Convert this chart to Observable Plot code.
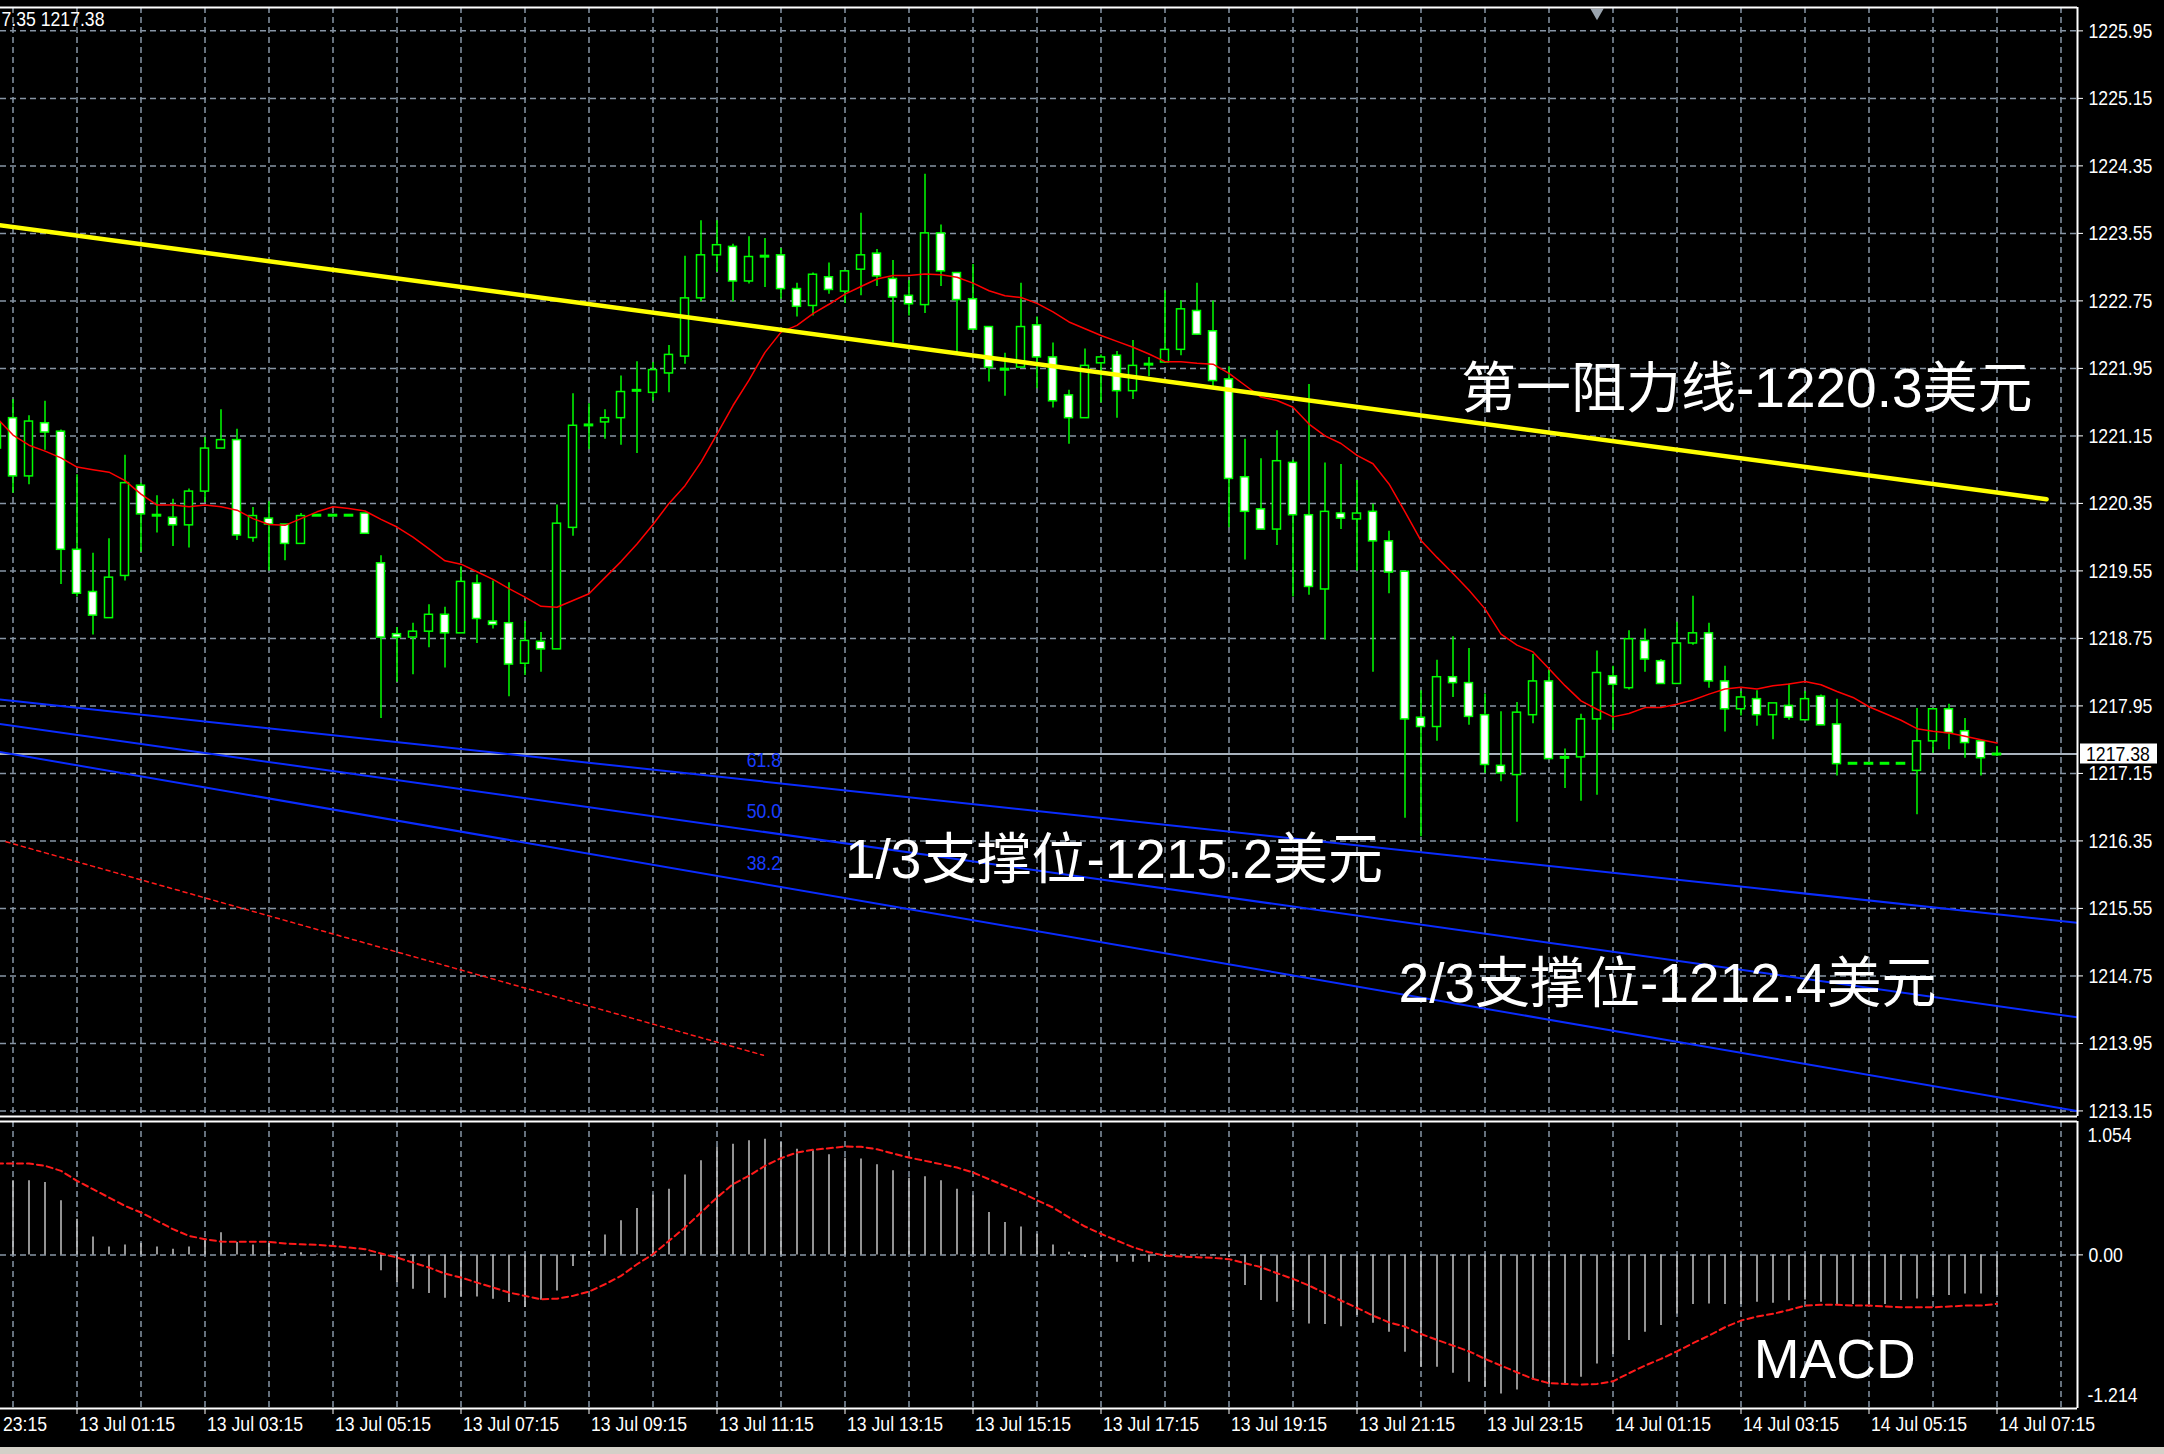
<!DOCTYPE html>
<html lang="zh-CN">
<head>
<meta charset="utf-8">
<title>XAUUSD M15</title>
<script src="https://cdn.jsdelivr.net/npm/d3@7"></script>
<script src="https://cdn.jsdelivr.net/npm/@observablehq/plot@0.6"></script>
<style>
  html, body { margin: 0; padding: 0; background: #000; }
  #chart { position: relative; width: 2164px; height: 1454px; background: #000; overflow: hidden; }
  #chart > svg { position: absolute; left: 0; }
  #status { position: absolute; left: 0; top: 1447px; width: 2164px; height: 7px; background: #d4d0c8; z-index: 3; }
</style>
</head>
<body>
<div id="chart"><div id="status"></div></div>
<script>
// M15 candles; bar index 0 = 13 Jul 00:00, bar 125 = 14 Jul 07:15
const open = [
  1221.30, 1221.36, 1220.67, 1221.30, 1221.20, 1219.80, 1219.30, 1218.99, 1219.49, 1220.56,
  1220.21, 1220.18, 1220.09, 1220.49, 1221.00, 1221.10, 1219.94, 1220.17, 1220.10, 1219.87,
  1220.21, 1220.21, 1220.21, 1220.23, 1219.64, 1218.80, 1218.76, 1218.83, 1219.03, 1218.81,
  1219.40, 1218.95, 1218.93, 1218.45, 1218.71, 1218.62, 1220.06, 1221.28, 1221.31, 1221.36,
  1221.69, 1221.66, 1221.89, 1222.09, 1222.78, 1223.29, 1223.39, 1222.98, 1223.28, 1223.29,
  1222.89, 1222.69, 1223.03, 1222.86, 1223.12, 1223.31, 1223.01, 1222.81, 1222.70, 1223.55,
  1223.08, 1222.77, 1222.44, 1221.94, 1221.96, 1222.46, 1222.08, 1221.63, 1221.36, 1222.01,
  1222.10, 1221.68, 1222.00, 1222.02, 1222.17, 1222.63, 1222.39, 1221.82, 1220.66, 1220.28,
  1220.04, 1220.83, 1220.21, 1219.33, 1220.23, 1220.16, 1220.25, 1219.90, 1219.54, 1217.81,
  1217.70, 1218.29, 1218.22, 1217.84, 1217.24, 1217.13, 1217.84, 1218.24, 1217.34, 1217.34,
  1217.79, 1218.30, 1218.16, 1218.72, 1218.48, 1218.21, 1218.69, 1218.81, 1218.24, 1217.91,
  1218.03, 1217.84, 1217.95, 1217.78, 1218.06, 1217.73, 1217.27, 1217.27, 1217.27, 1217.27,
  1217.18, 1217.53, 1217.91, 1217.65, 1217.53, 1217.38
];
const high = [
  1221.40, 1221.58, 1221.39, 1221.56, 1221.22, 1220.69, 1219.76, 1219.93, 1220.92, 1220.59,
  1220.44, 1220.40, 1220.52, 1221.13, 1221.46, 1221.23, 1220.30, 1220.37, 1220.10, 1220.23,
  1220.21, 1220.21, 1220.21, 1220.23, 1219.73, 1218.88, 1218.93, 1219.15, 1219.12, 1219.60,
  1219.50, 1219.43, 1219.41, 1218.95, 1218.82, 1220.33, 1221.65, 1221.53, 1221.46, 1221.86,
  1222.03, 1222.02, 1222.22, 1223.28, 1223.70, 1223.70, 1223.42, 1223.51, 1223.49, 1223.37,
  1222.96, 1223.08, 1223.20, 1223.10, 1223.79, 1223.36, 1223.23, 1222.99, 1224.25, 1223.65,
  1223.08, 1223.18, 1222.44, 1222.13, 1222.96, 1222.56, 1222.25, 1221.69, 1222.18, 1222.11,
  1222.15, 1222.28, 1222.08, 1222.87, 1222.75, 1222.96, 1222.75, 1221.97, 1221.11, 1220.88,
  1221.21, 1220.86, 1221.76, 1220.83, 1220.81, 1220.62, 1220.34, 1220.02, 1219.54, 1218.13,
  1218.49, 1218.77, 1218.63, 1218.09, 1217.88, 1217.99, 1218.56, 1218.37, 1217.44, 1217.85,
  1218.60, 1218.42, 1218.84, 1218.86, 1218.50, 1218.94, 1219.25, 1218.93, 1218.42, 1218.12,
  1218.13, 1217.98, 1218.21, 1218.12, 1218.08, 1218.03, 1217.27, 1217.27, 1217.27, 1217.27,
  1217.92, 1217.91, 1217.97, 1217.80, 1217.53, 1217.47
];
const low = [
  1220.86, 1220.47, 1220.57, 1220.98, 1219.39, 1219.24, 1218.79, 1218.99, 1219.43, 1219.77,
  1220.00, 1219.84, 1219.82, 1220.36, 1221.00, 1219.91, 1219.89, 1219.55, 1219.67, 1219.87,
  1220.21, 1220.21, 1220.21, 1219.99, 1217.80, 1218.23, 1218.32, 1218.64, 1218.40, 1218.81,
  1218.69, 1218.86, 1218.06, 1218.31, 1218.35, 1218.62, 1219.96, 1220.99, 1221.11, 1221.04,
  1220.94, 1221.56, 1221.66, 1222.00, 1222.74, 1223.09, 1222.74, 1222.95, 1222.91, 1222.77,
  1222.56, 1222.57, 1222.83, 1222.72, 1222.81, 1222.92, 1222.25, 1222.57, 1222.60, 1222.92,
  1222.13, 1222.41, 1221.79, 1221.62, 1221.96, 1221.71, 1221.48, 1221.05, 1221.36, 1221.54,
  1221.36, 1221.58, 1221.85, 1222.02, 1222.10, 1222.34, 1221.73, 1220.06, 1219.68, 1220.04,
  1219.85, 1219.24, 1219.26, 1218.73, 1220.04, 1219.55, 1218.35, 1219.28, 1216.62, 1216.40,
  1217.53, 1218.05, 1217.72, 1217.15, 1217.05, 1216.57, 1217.74, 1217.32, 1216.97, 1216.82,
  1216.89, 1217.66, 1218.14, 1218.35, 1218.21, 1218.21, 1218.67, 1218.16, 1217.64, 1217.83,
  1217.71, 1217.55, 1217.78, 1217.78, 1217.72, 1217.12, 1217.27, 1217.27, 1217.27, 1217.27,
  1216.66, 1217.39, 1217.43, 1217.33, 1217.12, 1217.35
];
const close = [
  1221.00, 1220.67, 1221.32, 1221.19, 1219.80, 1219.28, 1219.02, 1219.47, 1220.59, 1220.22,
  1220.21, 1220.09, 1220.49, 1221.00, 1221.10, 1219.97, 1220.20, 1220.10, 1219.87, 1220.20,
  1220.21, 1220.21, 1220.21, 1219.99, 1218.76, 1218.76, 1218.83, 1219.03, 1218.81, 1219.42,
  1218.98, 1218.91, 1218.44, 1218.72, 1218.62, 1220.11, 1221.27, 1221.28, 1221.36, 1221.67,
  1221.69, 1221.93, 1222.11, 1222.78, 1223.29, 1223.41, 1222.98, 1223.27, 1223.28, 1222.89,
  1222.68, 1223.06, 1222.88, 1223.10, 1223.29, 1223.04, 1222.79, 1222.71, 1223.55, 1223.10,
  1222.76, 1222.41, 1221.96, 1221.94, 1222.44, 1222.08, 1221.56, 1221.36, 1221.98, 1222.08,
  1221.68, 1221.98, 1222.00, 1222.17, 1222.65, 1222.35, 1221.80, 1220.64, 1220.25, 1220.04,
  1220.85, 1220.21, 1219.36, 1220.25, 1220.17, 1220.23, 1219.90, 1219.53, 1217.79, 1217.70,
  1218.29, 1218.22, 1217.82, 1217.25, 1217.15, 1217.87, 1218.24, 1217.32, 1217.34, 1217.79,
  1218.34, 1218.20, 1218.74, 1218.50, 1218.21, 1218.69, 1218.81, 1218.24, 1217.91, 1218.05,
  1217.84, 1217.98, 1217.81, 1218.03, 1217.72, 1217.26, 1217.27, 1217.27, 1217.27, 1217.27,
  1217.53, 1217.91, 1217.63, 1217.51, 1217.33, 1217.38
];
// moving average drawn in red over the candles
const ma = [
  1221.36, 1221.16, 1221.04, 1220.97, 1220.89, 1220.78, 1220.75, 1220.72, 1220.62, 1220.46,
  1220.33, 1220.33, 1220.31, 1220.33, 1220.31, 1220.27, 1220.17, 1220.10, 1220.09, 1220.17,
  1220.25, 1220.31, 1220.29, 1220.26, 1220.16, 1220.07, 1219.95, 1219.81, 1219.67, 1219.63,
  1219.54, 1219.45, 1219.34, 1219.24, 1219.13, 1219.12, 1219.20, 1219.28, 1219.47, 1219.66,
  1219.87, 1220.10, 1220.35, 1220.56, 1220.84, 1221.17, 1221.51, 1221.81, 1222.14, 1222.38,
  1222.46, 1222.60, 1222.71, 1222.83, 1222.92, 1223.01, 1223.05, 1223.05, 1223.07, 1223.06,
  1223.03, 1222.96, 1222.87, 1222.81, 1222.79, 1222.72, 1222.62, 1222.50, 1222.42, 1222.34,
  1222.27, 1222.20, 1222.12, 1222.03, 1222.03, 1222.01, 1222.00, 1221.89, 1221.75, 1221.61,
  1221.57, 1221.49, 1221.29, 1221.15, 1221.06, 1220.92, 1220.82, 1220.58, 1220.25, 1219.91,
  1219.71, 1219.52, 1219.32, 1219.10, 1218.80, 1218.67, 1218.59, 1218.39, 1218.19, 1218.01,
  1217.91, 1217.82, 1217.86, 1217.93, 1217.93, 1217.97, 1218.02, 1218.09, 1218.15, 1218.17,
  1218.15, 1218.19, 1218.21, 1218.24, 1218.20, 1218.12, 1218.05, 1217.94, 1217.86, 1217.78,
  1217.68, 1217.65, 1217.63, 1217.59, 1217.55, 1217.51
];
const macdHist = [
  0.590, 0.585, 0.585, 0.572, 0.427, 0.282, 0.142, 0.063, 0.079, 0.090,
  0.063, 0.045, 0.063, 0.124, 0.174, 0.097, 0.079, 0.090, 0.011, 0.016,
  0.005, 0.003, 0.000, -0.005, -0.126, -0.219, -0.272, -0.306, -0.343, -0.332,
  -0.332, -0.351, -0.377, -0.416, -0.358, -0.285, -0.092, 0.026, 0.158, 0.269,
  0.366, 0.472, 0.519, 0.632, 0.743, 0.848, 0.875, 0.901, 0.914, 0.888,
  0.835, 0.822, 0.791, 0.764, 0.757, 0.712, 0.665, 0.606, 0.617, 0.585,
  0.519, 0.467, 0.335, 0.256, 0.221, 0.163, 0.079, 0.020, -0.020, -0.045,
  -0.058, -0.058, -0.058, -0.020, 0.005, 0.005, -0.005, -0.020, -0.242, -0.361,
  -0.375, -0.440, -0.546, -0.551, -0.567, -0.480, -0.541, -0.611, -0.769, -0.888,
  -0.888, -0.936, -1.007, -1.047, -1.099, -1.067, -0.988, -1.020, -1.020, -0.967,
  -0.862, -0.788, -0.677, -0.611, -0.559, -0.467, -0.393, -0.388, -0.393, -0.393,
  -0.375, -0.383, -0.362, -0.356, -0.375, -0.393, -0.393, -0.393, -0.393, -0.361,
  -0.349, -0.322, -0.322, -0.309, -0.309, -0.322
];
const macdSignal = [
  0.722, 0.722, 0.722, 0.704, 0.664, 0.585, 0.519, 0.453, 0.387, 0.335,
  0.269, 0.203, 0.150, 0.124, 0.105, 0.103, 0.103, 0.103, 0.090, 0.084,
  0.079, 0.071, 0.058, 0.045, 0.011, -0.021, -0.061, -0.100, -0.148, -0.179,
  -0.219, -0.258, -0.298, -0.324, -0.351, -0.346, -0.324, -0.290, -0.232, -0.166,
  -0.074, 0.005, 0.111, 0.216, 0.335, 0.453, 0.559, 0.625, 0.704, 0.764,
  0.809, 0.830, 0.843, 0.856, 0.854, 0.835, 0.801, 0.769, 0.743, 0.717,
  0.690, 0.651, 0.598, 0.546, 0.493, 0.432, 0.374, 0.296, 0.224, 0.166,
  0.113, 0.061, 0.021, -0.005, -0.013, -0.018, -0.024, -0.034, -0.066, -0.097,
  -0.145, -0.190, -0.242, -0.303, -0.361, -0.419, -0.480, -0.533, -0.567, -0.625,
  -0.672, -0.717, -0.762, -0.822, -0.875, -0.928, -0.980, -1.014, -1.020, -1.025,
  -1.020, -0.999, -0.935, -0.875, -0.822, -0.762, -0.698, -0.638, -0.572, -0.519,
  -0.487, -0.466, -0.435, -0.401, -0.395, -0.395, -0.401, -0.401, -0.408, -0.414,
  -0.414, -0.414, -0.408, -0.401, -0.401, -0.387
];

// axis ticks
const priceTicks = [1213.15, 1213.95, 1214.75, 1215.55, 1216.35, 1217.15, 1217.95, 1218.75, 1219.55,
  1220.35, 1221.15, 1221.95, 1222.75, 1223.55, 1224.35, 1225.15, 1225.95];
const macdRange = [-1.214, 1.054];
const timeTickBars = [-3, 5, 13, 21, 29, 37, 45, 53, 61, 69, 77, 85, 93, 101, 109, 117, 125];
const timeLabels = ["12 Jul 23:15", "13 Jul 01:15", "13 Jul 03:15", "13 Jul 05:15", "13 Jul 07:15",
  "13 Jul 09:15", "13 Jul 11:15", "13 Jul 13:15", "13 Jul 15:15", "13 Jul 17:15", "13 Jul 19:15",
  "13 Jul 21:15", "13 Jul 23:15", "14 Jul 01:15", "14 Jul 03:15", "14 Jul 05:15", "14 Jul 07:15"];

// drawing objects
const resistanceLine = [{bar: 0, price: 1223.65}, {bar: 128.1, price: 1220.4}];
const channelLevels = ["61.8", "50.0", "38.2"];
const channelBars = [0, 130];
const channelStart = [1218.03, 1217.74, 1217.41];
const channelEnd = [1215.38, 1214.26, 1213.15];
const channelLabelBar = 49;
const channelLabelPrice = [1217.31, 1216.70, 1216.08];
const swingLine = [{bar: 0.56, price: 1216.34}, {bar: 47.9, price: 1213.81}];
const priceNotes = [
  {text: "第一阻力线-1220.3美元", bar: 91.5, price: 1221.70},
  {text: "1/3支撑位-1215.2美元", bar: 53.0, price: 1216.12},
  {text: "2/3支撑位-1212.4美元", bar: 87.6, price: 1214.65}
];
const macdNote = [{text: "MACD", bar: 109.8, value: -0.83}];
const shiftMarkBar = 100;

// layout
const W = 2164;
const FRAME_RIGHT = 2077;
const BAR_PX = 16, BAR0_PX = -3.5;
const xDomain = [(0 - BAR0_PX) / BAR_PX, (FRAME_RIGHT - BAR0_PX) / BAR_PX];
const MAIN_H = 1118, MAIN_TOP = 7, MAIN_BOTTOM = 1116;
const priceDomain = [1213.084, 1226.227];
const SUB_TOP = 1118, SUB_H = 336;

const GREEN = "#00ff00";
const GRID = "#8795a5";
// terminal scale labels: regular sans, squeezed horizontally after rendering
const axisFont = "'Liberation Sans', Arial, sans-serif";
const NARROW = 0.84;
const noteFont = "'Liberation Sans', 'Noto Sans CJK SC', sans-serif";
const gridBars = d3.range(1, 131, 4);

const bars = open.map((o, i) => ({i, open: o, high: high[i], low: low[i], close: close[i]}));
const bearBodies = bars.filter(d => d.close < d.open);
const bullBodies = bars.filter(d => d.close > d.open);
const dojis = bars.filter(d => d.close === d.open);
const last = bars[bars.length - 1];

const channelLines = channelLevels.flatMap((lvl, k) => [
  {lvl, bar: channelBars[0], price: channelStart[k]},
  {lvl, bar: channelBars[1], price: channelEnd[k]}
]);
const channelTags = channelLevels.map((lvl, k) => ({lvl, bar: channelLabelBar, price: channelLabelPrice[k]}));
const hist = macdHist.map((v, i) => ({i, v}));
const signal = macdSignal.map((v, i) => ({i, v}));

const gridStyle = {stroke: GRID, strokeOpacity: 1, strokeWidth: 1.5, strokeDasharray: "6,4"};
const bodyHalf = 0.25;

const main = Plot.plot({
  width: W,
  height: MAIN_H,
  marginLeft: 0,
  marginRight: W - FRAME_RIGHT,
  marginTop: MAIN_TOP,
  marginBottom: MAIN_H - MAIN_BOTTOM,
  style: {background: "#000", color: "#fff", fontFamily: axisFont, fontSize: "21px"},
  x: {domain: xDomain, axis: null},
  y: {domain: priceDomain, axis: null},
  marks: [
    Plot.gridY(priceTicks, gridStyle),
    Plot.gridX(gridBars, gridStyle),
    Plot.ruleY([last.close], {stroke: "#a9b3be", strokeWidth: 2}),
    // candles
    Plot.ruleX(bars, {x: "i", y1: "low", y2: "high", stroke: GREEN, strokeWidth: 1.5, clip: true}),
    Plot.rect(bearBodies, {x1: d => d.i - bodyHalf, x2: d => d.i + bodyHalf, y1: "open", y2: "close",
      fill: "#fff", stroke: GREEN, strokeWidth: 1.5, clip: true}),
    Plot.rect(bullBodies, {x1: d => d.i - bodyHalf, x2: d => d.i + bodyHalf, y1: "open", y2: "close",
      fill: "#000", stroke: GREEN, strokeWidth: 1.5, clip: true}),
    Plot.ruleY(dojis, {y: "close", x1: d => d.i - 0.3, x2: d => d.i + 0.3, stroke: GREEN, strokeWidth: 3, clip: true}),
    // moving average
    Plot.line(ma, {x: (d, i) => i, y: d => d, stroke: "#ff0000", strokeWidth: 1.5, clip: true}),
    // objects
    Plot.line(swingLine, {x: "bar", y: "price", stroke: "#ff1a1a", strokeWidth: 1.5, strokeDasharray: "4,4", clip: true}),
    Plot.line(channelLines, {x: "bar", y: "price", z: "lvl", stroke: "#0a2cff", strokeWidth: 2, clip: true}),
    Plot.text(channelTags, {x: "bar", y: "price", text: "lvl", textAnchor: "end", fill: "#1a3cff",
      fontSize: 21, fontFamily: axisFont}),
    Plot.line(resistanceLine, {x: "bar", y: "price", stroke: "#ffff00", strokeWidth: 4.5, clip: true}),
    Plot.text(priceNotes, {x: "bar", y: "price", text: "text", textAnchor: "start", fill: "#fff",
      fontSize: 55, fontFamily: noteFont}),
    Plot.text([`${last.low.toFixed(2).slice(3)} ${last.close.toFixed(2)}`], {frameAnchor: "top-left",
      dx: 1, dy: 4, textAnchor: "start", lineAnchor: "top", fill: "#fff", fontSize: 21, fontFamily: axisFont}),
    Plot.dot([shiftMarkBar], {x: d => d, frameAnchor: "top", dy: 5, symbol: "triangle", rotate: 180,
      r: 5, fill: "#9aa4ae", stroke: "none"}),
    // frame edges and price scale
    Plot.ruleY([priceDomain[1]], {stroke: "#fff", strokeWidth: 2}),
    Plot.ruleY([priceDomain[0]], {stroke: "#fff", strokeWidth: 2}),
    Plot.ruleX([xDomain[1]], {stroke: "#fff", strokeWidth: 2}),
    Plot.axisY(priceTicks, {anchor: "right", tickSize: 5, tickPadding: 6, tickFormat: d => d.toFixed(2),
      color: "#fff", fontSize: 21, fontFamily: axisFont})
  ]
});
// the lowest price label hangs over the pane border
main.style.top = "0px";
main.style.overflow = "visible";
main.style.zIndex = "2";

// last price tag on the price scale
{
  const y = main.scale("y").apply(last.close);
  const g = d3.select(main).append("g").attr("text-anchor", "start");
  g.append("rect").attr("x", FRAME_RIGHT + 3).attr("y", y - 10).attr("width", 77).attr("height", 20)
    .attr("fill", "#fff");
  g.append("text").attr("x", FRAME_RIGHT + 9).attr("y", y).attr("dy", "0.35em")
    .attr("fill", "#000").attr("font-family", axisFont).attr("font-size", 21)
    .text(last.close.toFixed(2));
}

const sub = Plot.plot({
  width: W,
  height: SUB_H,
  marginLeft: 0,
  marginRight: W - FRAME_RIGHT,
  marginTop: 3,
  marginBottom: 46,
  style: {background: "#000", color: "#fff", fontFamily: axisFont, fontSize: "21px"},
  x: {domain: xDomain, axis: null},
  y: {domain: macdRange, axis: null},
  marks: [
    Plot.gridX(gridBars, gridStyle),
    Plot.ruleY([0], gridStyle),
    Plot.ruleX(hist, {x: "i", y1: 0, y2: "v", stroke: "#c4c4c4", strokeWidth: 1.5, clip: true}),
    Plot.line(signal, {x: "i", y: "v", stroke: "#ff1a1a", strokeWidth: 2, strokeDasharray: "6,4", clip: true}),
    Plot.text(macdNote, {x: "bar", y: "value", text: "text", textAnchor: "start", fill: "#fff",
      fontSize: 55, fontFamily: noteFont}),
    Plot.ruleY([macdRange[1]], {stroke: "#fff", strokeWidth: 2}),
    Plot.ruleY([macdRange[0]], {stroke: "#fff", strokeWidth: 2}),
    Plot.ruleX([xDomain[1]], {stroke: "#fff", strokeWidth: 2}),
    Plot.axisY([0], {anchor: "right", tickSize: 5, tickPadding: 6, tickFormat: d => d.toFixed(2),
      color: "#fff", fontSize: 21, fontFamily: axisFont}),
    Plot.text([macdRange[1]], {y: d => d, frameAnchor: "right", dx: 10, dy: 14, textAnchor: "start",
      text: d => d.toFixed(3), fill: "#fff", fontSize: 21, fontFamily: axisFont}),
    Plot.text([macdRange[0]], {y: d => d, frameAnchor: "right", dx: 10, dy: -13, textAnchor: "start",
      text: d => d.toFixed(3), fill: "#fff", fontSize: 21, fontFamily: axisFont}),
    // time scale
    Plot.axisX(timeTickBars.filter(b => b >= xDomain[0]), {anchor: "bottom", tickSize: 6,
      tickFormat: () => "", color: "#fff"}),
    Plot.text(timeTickBars, {x: d => d, frameAnchor: "bottom", lineAnchor: "top", dx: 2, dy: 8,
      textAnchor: "start", text: (d, i) => timeLabels[i], fill: "#fff", fontSize: 21, fontFamily: axisFont})
  ]
});
sub.style.top = SUB_TOP + "px";
sub.style.zIndex = "1";

const chart = document.getElementById("chart");
chart.insertBefore(sub, chart.firstChild);
chart.insertBefore(main, chart.firstChild);

// squeeze the scale and readout labels to the terminal's narrow lettering
for (const svg of [main, sub]) {
  svg.querySelectorAll("text").forEach(t => {
    if (getComputedStyle(t).fontFamily.includes("CJK")) return;
    if (!t.textContent) return;
    const len = t.getComputedTextLength();
    if (len > 0) {
      t.setAttribute("textLength", (len * NARROW).toFixed(1));
      t.setAttribute("lengthAdjust", "spacingAndGlyphs");
    }
  });
}
</script>
</body>
</html>
